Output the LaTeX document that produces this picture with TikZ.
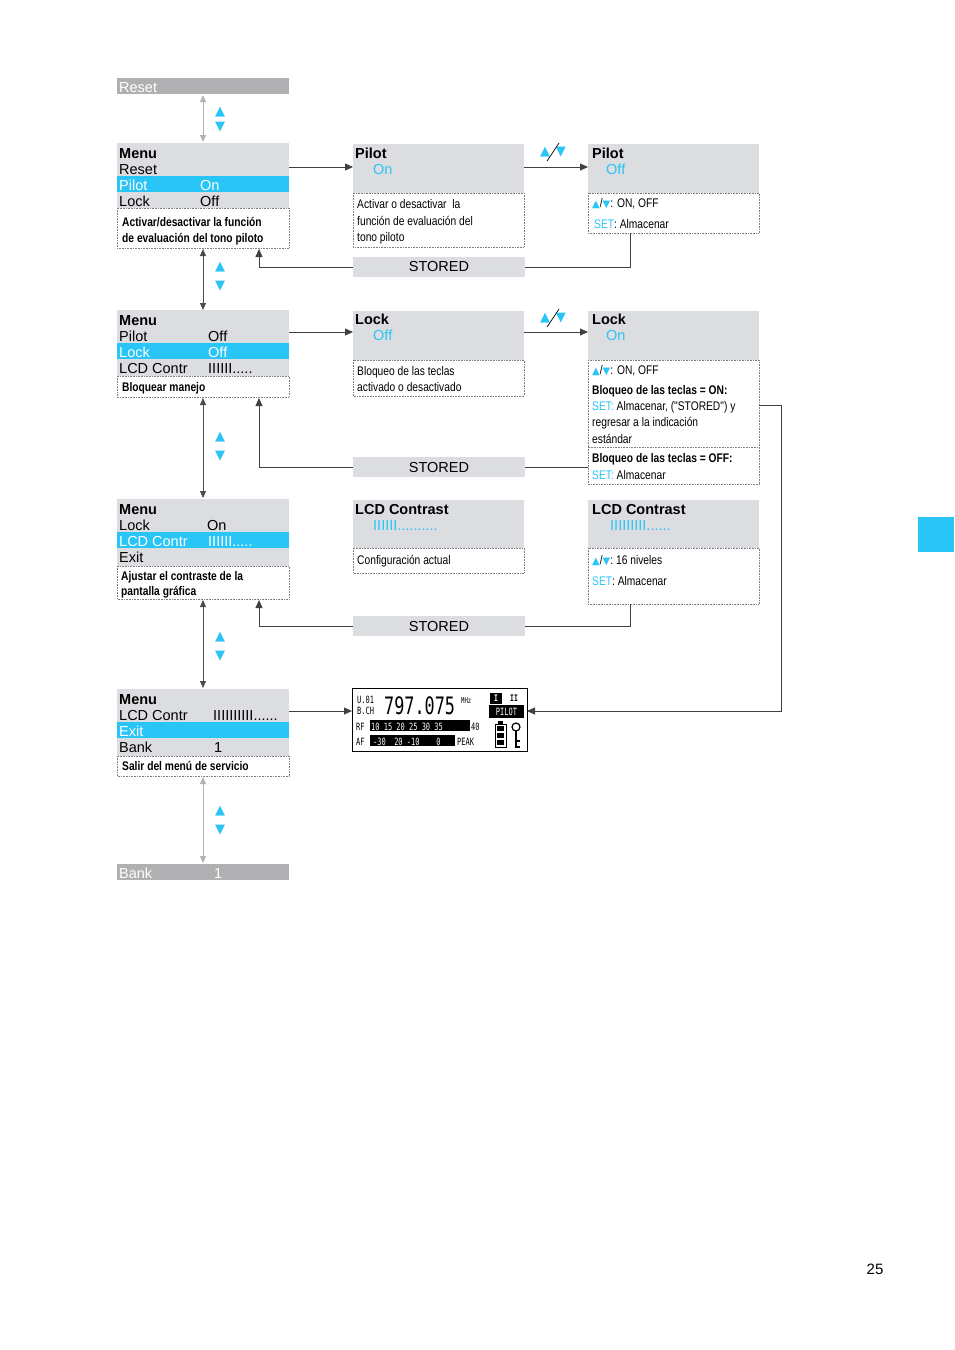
\documentclass[tikz,border=0pt]{standalone}
\usepackage{fontspec}
\setmainfont{Liberation Sans}
\newfontfamily\cond[FakeStretch=0.82]{Liberation Sans}
\newfontfamily\djv{DejaVu Sans}
\newfontfamily\lcdmono[FakeStretch=0.7]{DejaVu Sans Mono}
\usetikzlibrary{arrows.meta}
\definecolor{cy}{HTML}{29C5F6}
\definecolor{gb}{HTML}{DCDDE0}
\definecolor{gd}{HTML}{B0B0B2}
\begin{document}
\begin{tikzpicture}[x=1pt,y=-1pt,
 gbox/.style={fill=gb,draw=none},
 dbox/.style={draw=gray,densely dotted,line width=0.6pt},
 t/.style={anchor=base west,inner sep=0,font=\fontsize{14.5}{15}\selectfont},
 tb/.style={t,font=\fontsize{14.5}{15}\selectfont\bfseries},
 d/.style={anchor=base west,inner sep=0,font=\cond\fontsize{12.5}{13}\selectfont},
 db/.style={d,font=\cond\fontsize{12.5}{13}\selectfont\bfseries},
 con/.style={line width=0.8pt,draw=black!75},
 arr/.style={con,-{Triangle[length=8pt,width=7pt]}},
 garr/.style={line width=0.8pt,draw=gray!60,{Triangle[length=7pt,width=6pt]}-{Triangle[length=7pt,width=6pt]}},
 varr/.style={line width=0.8pt,draw=black!70,{Triangle[length=7pt,width=6pt]}-{Triangle[length=7pt,width=6pt]}},
 tri/.style={anchor=center,inner sep=0,text=cy,font=\djv\fontsize{13}{13}\selectfont}]
\useasboundingbox (0,0) rectangle (954,1350);
\fill[cy] (918,517) rectangle (954,552);
\node[anchor=base,inner sep=0,font=\fontsize{15}{15}\selectfont] (pg) at (875,1274) {25};

% Reset bar
\fill[gd] (117,78) rectangle (289,94);
\node[t,text=white] (rs) at (119,92) {Reset};
\coordinate (rsb) at (203,95);
% Menu 1
\fill[gb] (117,143) rectangle (289,208);
\fill[cy] (117,176) rectangle (289,192);
\draw[dbox] (117,208) rectangle (289,248);
\node[tb] at (119,158) {Menu};
\node[t] at (119,174) {Reset};
\node[t,text=white] at (119,190) {Pilot};
\node[t,text=white] at (200,190) {On};
\node[t] at (119,206) {Lock};
\node[t] at (200,206) {Off};
\node[db] at (122,226) {Activar/desactivar la función};
\node[db] at (122,242) {de evaluación del tono piloto};
\coordinate (m1t) at (203,142);
\coordinate (m1b) at (203,249);
\coordinate (m1r) at (289,167);
\coordinate (m1s) at (259,249);
\draw[garr] (rsb) -- (m1t);
\node[tri] at (220,112) {▲};
\node[tri] at (220,127) {▼};

% Pilot On
\fill[gb] (353,144) rectangle (524,193);
\draw[dbox] (353,193) rectangle (524,247);
\node[tb] at (355,158) {Pilot};
\node[t,text=cy] at (373,174) {On};
\node[d] at (357,208) {Activar o desactivar\ \ la};
\node[d] at (357,225) {función de evaluación del};
\node[d] at (357,241) {tono piloto};
\coordinate (p1l) at (353,167);
\coordinate (p1r) at (524,167);
% Pilot Off
\fill[gb] (588,144) rectangle (759,193);
\draw[dbox] (588,193) rectangle (759,233);
\node[tb] at (592,158) {Pilot};
\node[t,text=cy] at (606,174) {Off};
\node[d] at (592,207) {\textcolor{cy}{\djv\fontsize{10}{10}\selectfont▲}/\textcolor{cy}{\djv\fontsize{10}{10}\selectfont▼}: ON, OFF};
\node[d] at (594,228) {\textcolor{cy}{SET}: Almacenar};
\coordinate (p2l) at (588,167);
\coordinate (p2b) at (630,233);
% Stored 1
\fill[gb] (353,257) rectangle (525,277);
\node[anchor=center,inner sep=0,font=\fontsize{14.5}{15}\selectfont] (s1) at (439,267) {STORED};
\draw[arr] (m1r) -- (p1l);
\draw[arr] (p1r) -- (p2l);
\node[tri] (ud1) at (553,152) {▲\hspace{6pt}▼};
\draw[line width=0.7pt] (547,161) -- (559,143);
\draw[con] (p2b) |- (525,267);
\draw[arr] (353,267) -| (m1s);

% Menu 2
\fill[gb] (117,310) rectangle (289,376);
\fill[cy] (117,343) rectangle (289,359);
\draw[dbox] (117,376) rectangle (289,397);
\node[tb] at (119,325) {Menu};
\node[t] at (119,341) {Pilot};
\node[t] at (208,341) {Off};
\node[t,text=white] at (119,357) {Lock};
\node[t,text=white] at (208,357) {Off};
\node[t] at (119,373) {LCD Contr};
\node[t] at (208,373) {IIIIII.....};
\node[db] at (122,391) {Bloquear manejo};
\coordinate (m2t) at (203,310);
\coordinate (m2b) at (203,398);
\coordinate (m2r) at (289,332);
\coordinate (m2s) at (259,398);
\draw[varr] (m1b) -- (m2t);
\node[tri] at (220,267) {▲};
\node[tri] at (220,286) {▼};
% Lock box
\fill[gb] (353,311) rectangle (524,360);
\draw[dbox] (353,360) rectangle (524,396);
\node[tb] at (355,324) {Lock};
\node[t,text=cy] at (373,340) {Off};
\node[d] at (357,375) {Bloqueo de las teclas};
\node[d] at (357,391) {activado o desactivado};
\coordinate (l1l) at (353,332);
\coordinate (l1r) at (524,332);
% Lock On box
\fill[gb] (588,311) rectangle (759,360);
\draw[dbox] (588,360) rectangle (759,447);
\draw[dbox] (588,447) rectangle (759,484);
\node[tb] at (592,324) {Lock};
\node[t,text=cy] at (606,340) {On};
\node[d] at (592,374) {\textcolor{cy}{\djv\fontsize{10}{10}\selectfont▲}/\textcolor{cy}{\djv\fontsize{10}{10}\selectfont▼}: ON, OFF};
\node[db] at (592,394) {Bloqueo de las teclas = ON:};
\node[d] at (592,410) {\textcolor{cy}{SET:} Almacenar, ("STORED") y};
\node[d] at (592,426) {regresar a la indicación};
\node[d] at (592,443) {estándar};
\node[db] at (592,462) {Bloqueo de las teclas = OFF:};
\node[d] at (592,479) {\textcolor{cy}{SET:} Almacenar};
\coordinate (l2l) at (588,332);
\coordinate (l2y) at (759,405);
\coordinate (l2o) at (588,467);
% Stored 2
\fill[gb] (353,457) rectangle (525,477);
\node[anchor=center,inner sep=0,font=\fontsize{14.5}{15}\selectfont] (s2) at (439,467) {STORED};
\draw[arr] (m2r) -- (l1l);
\draw[arr] (l1r) -- (l2l);
\node[tri] (ud2) at (553,318) {▲\hspace{6pt}▼};
\draw[line width=0.7pt] (547,327) -- (559,309);
\draw[con] (l2o) -- (525,467);
\draw[arr] (353,467) -| (m2s);

% Menu 3
\fill[gb] (117,499) rectangle (289,566);
\fill[cy] (117,532) rectangle (289,548);
\draw[dbox] (117,566) rectangle (289,599);
\node[tb] at (119,514) {Menu};
\node[t] at (119,530) {Lock};
\node[t] at (207,530) {On};
\node[t,text=white] at (119,546) {LCD Contr};
\node[t,text=white] at (208,546) {IIIIII.....};
\node[t] at (119,562) {Exit};
\node[db] at (121,580) {Ajustar el contraste de la};
\node[db] at (121,595) {pantalla gráfica};
\coordinate (m3t) at (203,498);
\coordinate (m3b) at (203,600);
\coordinate (m3s) at (259,600);
\draw[varr] (m2b) -- (m3t);
\node[tri] at (220,437) {▲};
\node[tri] at (220,456) {▼};
% LCD contrast
\fill[gb] (353,500) rectangle (524,548);
\draw[dbox] (353,548) rectangle (524,573);
\node[tb] at (355,514) {LCD Contrast};
\node[t,text=cy] at (373,530) {IIIIII..........};
\node[d] at (357,564) {Configuración actual};
\fill[gb] (588,500) rectangle (759,548);
\draw[dbox] (588,548) rectangle (759,604);
\node[tb] at (592,514) {LCD Contrast};
\node[t,text=cy] at (610,530) {IIIIIIIII......};
\node[d] at (592,564) {\textcolor{cy}{\djv\fontsize{10}{10}\selectfont▲}/\textcolor{cy}{\djv\fontsize{10}{10}\selectfont▼}:\ 16 niveles};
\node[d] at (592,585) {\textcolor{cy}{SET}: Almacenar};
\coordinate (c2b) at (630,604);
\fill[gb] (353,616) rectangle (525,636);
\node[anchor=center,inner sep=0,font=\fontsize{14.5}{15}\selectfont] (s3) at (439,626) {STORED};
\draw[con] (c2b) |- (525,626);
\draw[arr] (353,626) -| (m3s);

% Menu 4
\fill[gb] (117,689) rectangle (289,756);
\fill[cy] (117,722) rectangle (289,738);
\draw[dbox] (117,756) rectangle (289,776);
\node[tb] at (119,704) {Menu};
\node[t] at (119,720) {LCD Contr};
\node[t] at (213,720) {IIIIIIIIII......};
\node[t,text=white] at (119,736) {Exit};
\node[t] at (119,752) {Bank};
\node[t] at (214,752) {1};
\node[db] at (122,770) {Salir del menú de servicio};
\coordinate (m4t) at (203,688);
\coordinate (m4b) at (203,777);
\coordinate (m4r) at (289,711);
\draw[varr] (m3b) -- (m4t);
\node[tri] at (220,637) {▲};
\node[tri] at (220,656) {▼};
% Bank
\fill[gd] (117,864) rectangle (289,880);
\node[t,text=white] at (119,878) {Bank};
\node[t,text=white] at (214,878) {1};
\coordinate (bkt) at (203,863);
\draw[garr] (m4b) -- (bkt);
\node[tri] at (220,811) {▲};
\node[tri] at (220,830) {▼};

% Display
\draw[line width=0.9pt] (352,688) rectangle (527,751);
\coordinate (dl) at (352,711);
\coordinate (dr) at (527,711);
\node[anchor=base west,inner sep=0,font=\lcdmono\fontsize{10}{10}\selectfont] at (357,703) {U.01};
\node[anchor=base west,inner sep=0,font=\lcdmono\fontsize{10}{10}\selectfont] at (357,714) {B.CH};
\node[anchor=base west,inner sep=0,font=\lcdmono\fontsize{24}{24}\selectfont] at (384,714) {797.075};
\node[anchor=base west,inner sep=0,font=\lcdmono\fontsize{8}{8}\selectfont] at (461,703) {MHz};
\fill (490,693) rectangle (502,704);
\node[anchor=center,inner sep=0,text=white,font=\lcdmono\bfseries\fontsize{9}{9}\selectfont] at (496,698.5) {I};
\node[anchor=center,inner sep=0,font=\lcdmono\bfseries\fontsize{9}{9}\selectfont] at (514,698.5) {II};
\fill (489,705) rectangle (524,718);
\node[anchor=center,inner sep=0,text=white,font=\lcdmono\fontsize{10}{10}\selectfont] at (506.5,711.5) {PILOT};
\node[anchor=base west,inner sep=0,font=\lcdmono\fontsize{10}{10}\selectfont] at (356,730) {RF};
\fill (370,720) rectangle (470,731);
\node[anchor=base west,inner sep=0,text=white,font=\lcdmono\fontsize{10}{10}\selectfont] at (371,730) {10 15 20 25 30 35};
\node[anchor=base west,inner sep=0,font=\lcdmono\fontsize{10}{10}\selectfont] at (471,730) {40};
\node[anchor=base west,inner sep=0,font=\lcdmono\fontsize{10}{10}\selectfont] at (356,745) {AF};
\fill (370,735) rectangle (455,746);
\node[anchor=base west,inner sep=0,text=white,font=\lcdmono\fontsize{10}{10}\selectfont] at (373,745) {-30\ \ 20 -10\ \ \ \ 0};
\node[anchor=base west,inner sep=0,font=\lcdmono\fontsize{10}{10}\selectfont] at (457,745) {PEAK};
\draw[line width=1pt] (495,724) rectangle (506,747);
\fill (498,721) rectangle (503,724);
\fill (497,726) rectangle (504,731); \fill (497,733) rectangle (504,738); \fill (497,740) rectangle (504,745);
\draw[line width=1.2pt] (516,727) circle (4pt);
\draw[line width=1.2pt] (516,731) -- (516,747) -- (520,747) (516,741) -- (520,741);

\draw[arr] (m4r) -- (dl);
\draw[arr] (l2y) -- (781,405) -- (781,711) -- (dr);
\end{tikzpicture}
\end{document}
